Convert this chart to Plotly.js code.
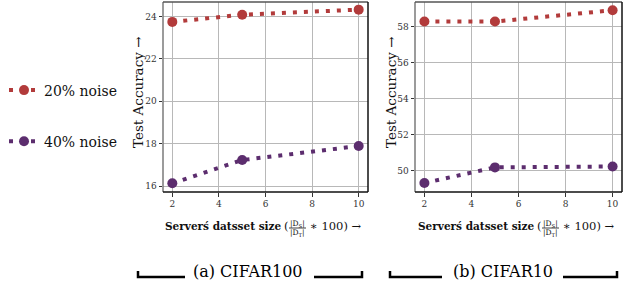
<!DOCTYPE html>
<html><head><meta charset="utf-8">
<script src="https://cdn.plot.ly/plotly-3.0.1.min.js"></script>
<style>html,body{margin:0;padding:0;background:#fff}</style>
</head><body><div id="chart" style="width:625px;height:290px"></div>
<script>
const serverSize = [2, 5, 10];
const cifar100_noise20 = [23.75, 24.09, 24.33];
const cifar100_noise40 = [16.13, 17.23, 17.89];
const cifar10_noise20 = [58.29, 58.29, 58.92];
const cifar10_noise40 = [49.30, 50.17, 50.22];
const seriesNames = ['20% noise', '40% noise'];
const panelCaptions = ['(a) CIFAR100', '(b) CIFAR10'];
const xTicks = [2, 4, 6, 8, 10];
const yTicksC100 = [16, 18, 20, 22, 24];
const yTicksC10 = [50, 52, 54, 56, 58];

const RED = '#b23b3b', PURPLE = '#5c2d6e';
const SERIF = 'DejaVu Serif';
const L = 163, T = 2, PW = 459, PH = 190;
const px = x => (x - L) / PW;
const py = y => (T + PH - y) / PH;

function tr(x, y, name, color, xa, ya, show) {
  return {x: x, y: y, name: name, mode: 'lines+markers', xaxis: xa, yaxis: ya,
    showlegend: show, legendgroup: name,
    line: {color: color, width: 4, dash: '4px,7px'},
    marker: {color: color, size: 10}};
}
const data = [
  tr(serverSize, cifar100_noise20, seriesNames[0], RED, 'x', 'y', true),
  tr(serverSize, cifar100_noise40, seriesNames[1], PURPLE, 'x', 'y', true),
  tr(serverSize, cifar10_noise20, seriesNames[0], RED, 'x2', 'y2', false),
  tr(serverSize, cifar10_noise40, seriesNames[1], PURPLE, 'x2', 'y2', false)
];

const axBase = {showline: false, zeroline: false, showgrid: true, gridcolor: '#b8b8b8', gridwidth: 1,
  ticks: 'outside', ticklen: 3.5, tickwidth: 1, tickcolor: '#333',
  tickfont: {family: SERIF, size: 9, color: '#333'}};
const xd1 = [0, 205 / PW], xd2 = [252 / PW, 1];

const shapes = [];
function frame(xa, ya) {
  const s = (x0, y0, x1, y1, c, w) => shapes.push({type: 'line', xref: xa + ' domain', yref: ya + ' domain',
    x0: x0, y0: y0, x1: x1, y1: y1, line: {color: c, width: w}});
  s(0, 0, 0, 1, '#7a7a7a', 1.5);
  s(0, 1, 1, 1, '#555', 1.5);
  s(1, 0, 1, 1, '#111', 1.5);
  s(0, 0, 1, 0, '#111', 1.5);
}
frame('x', 'y'); frame('x2', 'y2');

function bracket(x0, x1, tickAtStart) {
  const yb = 277, yt = 271;
  let path;
  if (tickAtStart) path = `M${px(x0)},${py(yt)} L${px(x0)},${py(yb)} L${px(x1)},${py(yb)}`;
  else path = `M${px(x0)},${py(yb)} L${px(x1)},${py(yb)} L${px(x1)},${py(yt)}`;
  shapes.push({type: 'path', xref: 'paper', yref: 'paper', path: path, line: {color: '#000', width: 2.5}});
}
bracket(138, 185, true); bracket(314, 362, false);
bracket(390, 442, true); bracket(563, 617, false);

const ann = [];
function a(text, x, y, opts) {
  ann.push(Object.assign({text: text, xref: 'paper', yref: 'paper', x: px(x), y: py(y), showarrow: false,
    xanchor: 'center', yanchor: 'middle', font: {family: SERIF, size: 12, color: '#111'}}, opts || {}));
}
// y titles
a('Test Accuracy →', 138, 93, {textangle: -90, font: {family: SERIF, size: 13.5, color: '#111'}});
a('Test Accuracy →', 391, 93, {textangle: -90, font: {family: SERIF, size: 13.5, color: '#111'}});
// x titles
function xtitle(off) {
  a('<b>Serverś datsset size</b>', 163 + off, 226, {xanchor: 'left', font: {family: SERIF, size: 10.5, color: '#111'}});
  a('(', 286 + off, 226, {font: {family: SERIF, size: 11.5, color: '#111'}});
  a('|D<sub>S</sub>|', 297.5 + off, 223.5, {font: {family: SERIF, size: 7.5, color: '#111'}});
  a('|D<sub>T</sub>|', 297.5 + off, 232.5, {font: {family: SERIF, size: 7.5, color: '#111'}});
  shapes.push({type: 'line', xref: 'paper', yref: 'paper', x0: px(289 + off), x1: px(306 + off),
    y0: py(228), y1: py(228), line: {color: '#111', width: 0.8}});
  a('∗ 100) →', 308 + off, 226, {xanchor: 'left', font: {family: SERIF, size: 11.5, color: '#111'}});
}
xtitle(0); xtitle(253);
// captions
a(panelCaptions[0], 247.5, 271, {font: {family: SERIF, size: 16, color: '#000'}});
a(panelCaptions[1], 502.5, 271, {font: {family: SERIF, size: 16, color: '#000'}});

const layout = {
  width: 625, height: 290, margin: {l: L, r: 3, t: T, b: 290 - T - PH},
  paper_bgcolor: '#fff', plot_bgcolor: '#fff',
  font: {family: SERIF},
  xaxis: Object.assign({}, axBase, {domain: xd1, range: [1.6, 10.4], tickvals: xTicks}),
  yaxis: Object.assign({}, axBase, {range: [15.72, 24.69], tickvals: yTicksC100}),
  xaxis2: Object.assign({}, axBase, {domain: xd2, range: [1.6, 10.4], tickvals: xTicks, anchor: 'y2'}),
  yaxis2: Object.assign({}, axBase, {range: [48.8, 59.38], tickvals: yTicksC10, anchor: 'x2'}),
  showlegend: true,
  legend: {x: px(4), y: py(116), xanchor: 'left', yanchor: 'middle', tracegroupgap: 30,
    font: {family: SERIF, size: 14, color: '#111'}, bgcolor: 'rgba(0,0,0,0)', itemwidth: 30},
  shapes: shapes, annotations: ann
};
Plotly.newPlot('chart', data, layout, {displayModeBar: false, staticPlot: true});
</script></body></html>
